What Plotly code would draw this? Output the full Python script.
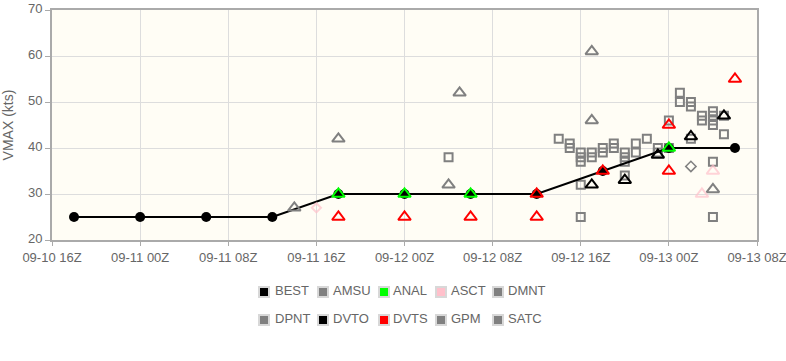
import plotly.graph_objects as go

# ---------------- data ----------------
best_t = ["2023-09-10 18:00", "2023-09-11 00:00", "2023-09-11 06:00", "2023-09-11 12:00",
          "2023-09-11 18:00", "2023-09-12 00:00", "2023-09-12 06:00", "2023-09-12 12:00",
          "2023-09-12 18:00", "2023-09-13 00:00", "2023-09-13 06:00"]
best_v = [25, 25, 25, 25, 30, 30, 30, 30, 35, 40, 40]

anal_t = ["2023-09-11 18:00", "2023-09-12 00:00", "2023-09-12 06:00", "2023-09-13 00:00"]
anal_v = [30, 30, 30, 40]

dvts_t = ["2023-09-11 18:00", "2023-09-12 00:00", "2023-09-12 06:00", "2023-09-12 12:00",
          "2023-09-12 12:00", "2023-09-12 18:00", "2023-09-13 00:00", "2023-09-13 00:00",
          "2023-09-13 06:00"]
dvts_v = [25, 25, 25, 25, 30, 35, 45, 35, 55]

dvto_t = ["2023-09-12 17:00", "2023-09-12 20:00", "2023-09-12 23:00", "2023-09-13 02:00",
          "2023-09-13 05:00"]
dvto_v = [32, 33, 38.5, 42.5, 47]

asct_t = ["2023-09-11 16:00", "2023-09-13 03:00", "2023-09-13 04:00"]
asct_v = [27, 30, 35]
asct_sym = ["diamond-open", "triangle-up-open", "triangle-up-open"]
asct_size = [7, 11, 11]

amsu_t = ["2023-09-11 18:00", "2023-09-12 05:00"]
amsu_v = [42, 52]

satc_t = ["2023-09-11 14:00", "2023-09-12 04:00", "2023-09-12 17:00", "2023-09-12 17:00",
          "2023-09-13 04:00"]
satc_v = [27, 32, 61, 46, 31]

gpm_t = ["2023-09-13 02:00"]
gpm_v = [36]

dpnt_t = ["2023-09-12 04:00", "2023-09-12 14:00", "2023-09-12 15:00", "2023-09-12 16:00",
          "2023-09-12 17:00", "2023-09-12 18:00", "2023-09-12 19:00", "2023-09-12 20:00",
          "2023-09-12 21:00", "2023-09-12 22:00", "2023-09-12 23:00", "2023-09-13 00:00",
          "2023-09-13 01:00", "2023-09-13 02:00", "2023-09-13 03:00", "2023-09-13 04:00",
          "2023-09-13 05:00"]
dpnt_v = [38, 42, 41, 39, 39, 40, 41, 39, 41, 42, 40, 46, 52, 50, 47, 48, 47]

dmnt_t = ["2023-09-12 15:00", "2023-09-12 16:00", "2023-09-12 16:00", "2023-09-12 16:00",
          "2023-09-12 16:00", "2023-09-12 17:00", "2023-09-12 18:00", "2023-09-12 19:00",
          "2023-09-12 20:00", "2023-09-12 20:00", "2023-09-12 20:00", "2023-09-12 21:00",
          "2023-09-12 23:00", "2023-09-13 00:00", "2023-09-13 01:00", "2023-09-13 02:00",
          "2023-09-13 02:00", "2023-09-13 03:00", "2023-09-13 04:00", "2023-09-13 04:00",
          "2023-09-13 04:00", "2023-09-13 04:00", "2023-09-13 04:00", "2023-09-13 05:00"]
dmnt_v = [40, 38, 37, 32, 25, 38, 39, 40, 38, 37, 34, 39, 39, 40, 50, 49, 42, 46, 47, 46,
          45, 37, 25, 43]

x_tickvals = ["2023-09-10 16:00", "2023-09-11 00:00", "2023-09-11 08:00", "2023-09-11 16:00",
              "2023-09-12 00:00", "2023-09-12 08:00", "2023-09-12 16:00", "2023-09-13 00:00",
              "2023-09-13 08:00"]
x_ticktext = ["09-10 16Z", "09-11 00Z", "09-11 08Z", "09-11 16Z", "09-12 00Z", "09-12 08Z",
              "09-12 16Z", "09-13 00Z", "09-13 08Z"]

legend_row1 = [("BEST", "#000000"), ("AMSU", "#808080"), ("ANAL", "#00ff00"),
               ("ASCT", "#ffc0cb"), ("DMNT", "#808080")]
legend_row2 = [("DPNT", "#808080"), ("DVTO", "#000000"), ("DVTS", "#ff0000"),
               ("GPM", "#808080"), ("SATC", "#808080")]

GRAY = "#808080"
PL, PR, PT, PB = 52, 757, 10, 240   # plot area in pixels
W, H = 786, 361
fig = go.Figure()


def pts(t, v, color, symbol, size, lw=2):
    fig.add_trace(go.Scatter(
        x=t, y=v, mode="markers", showlegend=False, hoverinfo="x+y",
        marker=dict(symbol=symbol, size=size, color=color, line=dict(width=lw, color=color))))


# squares underneath
pts(dpnt_t, dpnt_v, GRAY, "square-open", 8)
pts(dmnt_t, dmnt_v, GRAY, "square-open", 8)

# best track
fig.add_trace(go.Scatter(
    x=best_t, y=best_v, mode="lines+markers", showlegend=False,
    line=dict(color="#000000", width=2),
    marker=dict(symbol="circle", size=10, color="#000000")))

pts(gpm_t, gpm_v, GRAY, "diamond-open", 8, 1.5)
pts(satc_t, satc_v, GRAY, "triangle-up-open", 11)
pts(amsu_t, amsu_v, GRAY, "triangle-up-open", 11)
pts(asct_t, asct_v, "#ffc0cb", asct_sym, asct_size)
pts(dvto_t, dvto_v, "#000000", "triangle-up-open", 11)
pts(anal_t, anal_v, "#00ff00", "triangle-up-open", 11)
pts(dvts_t, dvts_v, "#ff0000", "triangle-up-open", 11)

# legend: for each entry one legend holding the colour swatch and one holding the label,
# so swatch and label can sit as close together as in the reference
icon_cx = [263, 322, 383, 440, 497]
text_x0 = [275, 333, 393, 451, 508]
icon_cy = [292, 320]
text_cy = [290, 318]
legends = {}
k = 0


def add_legend(px, py):
    global k
    k += 1
    lg = "legend" if k == 1 else f"legend{k}"
    legends[lg] = dict(
        x=(px - PL) / (PR - PL), y=(PB - py) / (PB - PT),
        xanchor="left", yanchor="middle", orientation="h",
        font=dict(size=13, color="#666666"), bgcolor="rgba(0,0,0,0)",
        itemwidth=30, itemclick=False, itemdoubleclick=False)
    return lg


for r, row in enumerate((legend_row1, legend_row2)):
    for c, (name, col) in enumerate(row):
        lg_icon = add_legend(icon_cx[c] - 19, icon_cy[r])
        fig.add_trace(go.Scatter(
            x=[None], y=[None], mode="markers", name="", legend=lg_icon, showlegend=True,
            marker=dict(symbol="square", size=10, color=col,
                        line=dict(width=2, color="#d8d8d8"))))
        lg_text = add_legend(text_x0[c] - 40, text_cy[r])
        fig.add_trace(go.Scatter(
            x=[None], y=[None], mode="markers", name=name, legend=lg_text, showlegend=True,
            marker=dict(symbol="square", size=1, color="rgba(0,0,0,0)",
                        line=dict(width=0, color="rgba(0,0,0,0)"))))

fig.update_layout(
    width=W, height=H,
    margin=dict(l=PL, r=W - PR, t=PT, b=H - PB),
    paper_bgcolor="#ffffff",
    plot_bgcolor="#fffdf5",
    font=dict(family="Liberation Sans, Arial, sans-serif", size=13, color="#666666"),
    xaxis=dict(
        type="date", automargin=False,
        range=["2023-09-10 16:00", "2023-09-13 08:00"],
        tickmode="array", tickvals=x_tickvals, ticktext=x_ticktext,
        ticklabeloverflow="allow",
        showgrid=True, gridcolor="#dddddd", gridwidth=1,
        showline=True, linecolor="#aaaaaa", linewidth=2, mirror=True,
        ticks="outside", ticklen=4, tickcolor="#aaaaaa",
        tickfont=dict(size=13, color="#666666"), zeroline=False,
    ),
    yaxis=dict(
        automargin=False,
        range=[20, 70], dtick=10, tick0=20,
        showgrid=True, gridcolor="#dddddd", gridwidth=1,
        showline=True, linecolor="#aaaaaa", linewidth=2, mirror=True,
        ticks="outside", ticklen=5, tickcolor="#aaaaaa",
        tickfont=dict(size=13, color="#666666"), ticklabelshift=-2,
        ticklabeloverflow="allow",
        title=dict(text="VMAX (kts)", font=dict(size=14, color="#666666"), standoff=13),
        zeroline=False,
    ),
    **legends,
)

fig.write_html("out.html", config={"displayModeBar": False},
               post_script="document.body.style.margin='0';")
